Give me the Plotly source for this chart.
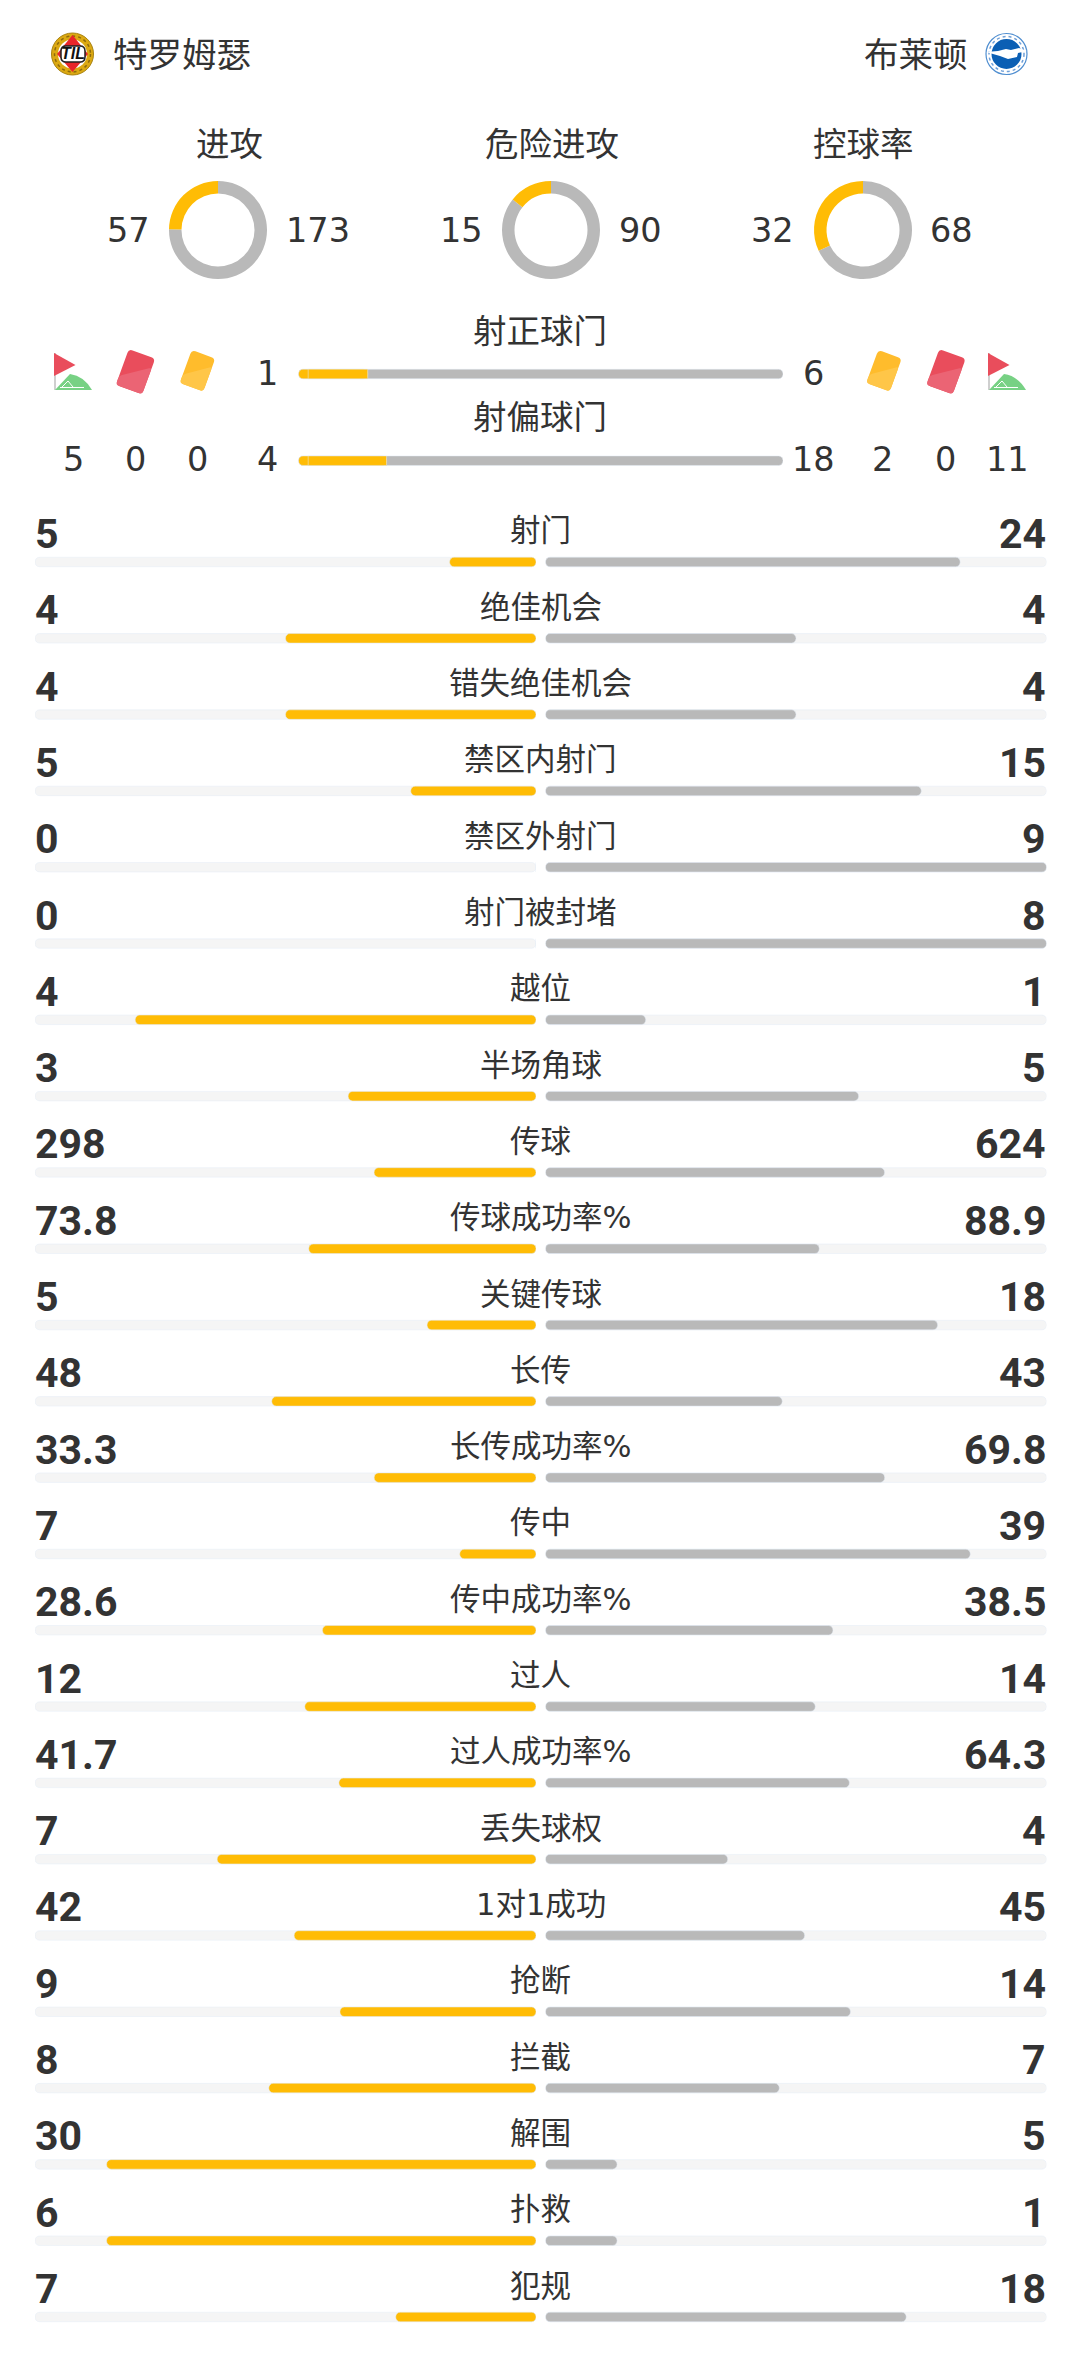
import math
import plotly.graph_objects as go

W = 1080
H = 2379

home_team = "特罗姆瑟"
away_team = "布莱顿"

donut_labels = ["进攻", "危险进攻", "控球率"]
donut_home = [57, 15, 32]
donut_away = [173, 90, 68]

shot_labels = ["射正球门", "射偏球门"]
shot_home = [1, 4]
shot_away = [6, 18]

home_corners = 5
home_reds = 0
home_yellows = 0
away_yellows = 2
away_reds = 0
away_corners = 11

stat_labels = ["射门", "绝佳机会", "错失绝佳机会", "禁区内射门", "禁区外射门", "射门被封堵", "越位", "半场角球",
               "传球", "传球成功率%", "关键传球", "长传", "长传成功率%", "传中", "传中成功率%", "过人",
               "过人成功率%", "丢失球权", "1对1成功", "抢断", "拦截", "解围", "扑救", "犯规"]
stat_home = [5, 4, 4, 5, 0, 0, 4, 3, 298, 73.8, 5, 48, 33.3, 7, 28.6, 12, 41.7, 7, 42, 9, 8, 30, 6, 7]
stat_away = [24, 4, 4, 15, 9, 8, 1, 5, 624, 88.9, 18, 43, 69.8, 39, 38.5, 14, 64.3, 4, 45, 14, 7, 5, 1, 18]

YELLOW = "#ffbc05"
GRAY = "#b9b9b9"
TRACK = "#f5f5f5"
INK = "#333333"
FONT = "DejaVu Sans, Noto Sans CJK SC"
BOLD = "Roboto, Noto Sans CJK SC"


def px(x):
    return x / W


def py(y):
    return 1 - y / H


def note(x, y, text, size, anchor="center", family=FONT):
    return dict(x=px(x), y=py(y), xref="paper", yref="paper", text=text, showarrow=False,
                xanchor=anchor, yanchor="middle", font=dict(family=family, size=size, color=INK))


def path_from(pts, close=True):
    s = " ".join(("M" if i == 0 else "L") + f"{px(x):.5f},{py(y):.5f}" for i, (x, y) in enumerate(pts))
    return s + (" Z" if close else "")


def rounded(pts, r):
    s = ""
    n = len(pts)
    for i in range(n):
        x, y = pts[i]
        x0, y0 = pts[i - 1]
        x1, y1 = pts[(i + 1) % n]
        d0 = math.hypot(x0 - x, y0 - y)
        d1 = math.hypot(x1 - x, y1 - y)
        ax, ay = x + (x0 - x) * r / d0, y + (y0 - y) * r / d0
        bx, by = x + (x1 - x) * r / d1, y + (y1 - y) * r / d1
        s += ("M" if i == 0 else "L") + f"{px(ax):.5f},{py(ay):.5f} "
        s += f"Q{px(x):.5f},{py(y):.5f} {px(bx):.5f},{py(by):.5f} "
    return s + "Z"


def shape_path(path, fill, line=None, width=0):
    return dict(type="path", xref="paper", yref="paper", path=path, fillcolor=fill,
                line=dict(color=line or fill, width=width), layer="above")


def circle(cx, cy, r, fill, line=None, width=0, dash="solid"):
    return dict(type="circle", xref="paper", yref="paper", x0=px(cx - r), x1=px(cx + r),
                y0=py(cy + r), y1=py(cy - r), fillcolor=fill,
                line=dict(color=line or fill, width=width, dash=dash), layer="above")


def card(cx, cy, w, h, base, light):
    a = math.radians(20)

    def rot(u, v):
        return (cx + u * math.cos(a) - v * math.sin(a), cy + u * math.sin(a) + v * math.cos(a))

    tl, tr, br, bl = rot(-w / 2, -h / 2), rot(w / 2, -h / 2), rot(w / 2, h / 2), rot(-w / 2, h / 2)
    m1 = rot(w / 2, -h / 4)
    m2 = rot(-w / 2, h / 4)
    return [shape_path(rounded([tl, tr, br, bl], 4), base),
            shape_path(rounded([m1, br, bl, m2], 3), light)]


def flag(x):
    out = [dict(type="line", xref="paper", yref="paper", x0=px(x + 1), x1=px(x + 1), y0=py(353), y1=py(390),
                line=dict(color="#cfcfcf", width=2), layer="above"),
           shape_path(path_from([(x, 353), (x + 21.5, 365), (x, 376)]), "#e94d5c")]
    g = f"M{px(x + 1):.5f},{py(390):.5f} L{px(x + 16):.5f},{py(374):.5f} " \
        f"Q{px(x + 30):.5f},{py(376):.5f} {px(x + 38):.5f},{py(390):.5f} Z"
    out.append(shape_path(g, "#77d184"))
    out.append(shape_path(path_from([(x + 6, 387.5), (x + 30, 387.5)], close=False), "rgba(0,0,0,0)", "white", 1))
    out.append(shape_path(path_from([(x + 8, 387), (x + 14, 381), (x + 19, 387)], close=False), "rgba(0,0,0,0)", "white", 1))
    return out


fig = go.Figure()

# donuts
donut_cx = [218, 551, 863]
for cx, h, a in zip(donut_cx, donut_home, donut_away):
    fig.add_trace(go.Pie(values=[a, h], hole=0.745, sort=False, direction="clockwise", rotation=0,
                         marker=dict(colors=[GRAY, YELLOW], line=dict(width=0)), textinfo="none",
                         hoverinfo="skip", showlegend=False,
                         domain=dict(x=[px(cx - 49), px(cx + 49)], y=[py(279), py(181)])))


# a bar with an explicit base gets both ends rounded
def add_pill(values, cats, color, xa, ya, width):
    fig.add_trace(go.Bar(x=values, base=[0] * len(values), y=cats, orientation="h", width=width,
                         marker=dict(color=color, cornerradius=4.5), xaxis=xa, yaxis=ya, hoverinfo="skip"))


# stat rows, shares of the two sides
home_share = [h / (h + a) for h, a in zip(stat_home, stat_away)]
away_share = [a / (h + a) for h, a in zip(stat_home, stat_away)]
one = [1] * len(stat_labels)
bw = 9.5 / 76.3

add_pill(one, stat_labels, TRACK, "x", "y", bw)
add_pill(home_share, stat_labels, YELLOW, "x", "y", bw)
add_pill(one, stat_labels, TRACK, "x2", "y2", bw)
add_pill(away_share, stat_labels, GRAY, "x2", "y2", bw)

# shots bars, yellow part has a square right end
shot_share = [h / (h + a) for h, a in zip(shot_home, shot_away)]
bw2 = 9.5 / 86.7
add_pill([1, 1], shot_labels, GRAY, "x3", "y3", bw2)
add_pill(shot_share, shot_labels, YELLOW, "x3", "y3", bw2)
fig.add_trace(go.Bar(x=[s - 0.02 for s in shot_share], base=[0.02, 0.02], y=shot_labels, orientation="h", width=bw2,
                     marker=dict(color=YELLOW), xaxis="x3", yaxis="y3", hoverinfo="skip"))

hidden = dict(visible=False, fixedrange=True)
row0 = 562
row_step = (2317 - 562) / 23
n = len(stat_labels)

anns = [note(110.5, 54.5, home_team, 34.5, "left"), note(969.5, 54.5, away_team, 34.5, "right")]
for x, t in zip([229, 551.5, 863], donut_labels):
    anns.append(note(x, 144, t, 33.5))
for rx, lx, h, a in zip([152, 485, 796], [284, 617, 928], donut_home, donut_away):
    anns.append(note(rx, 231, str(h), 33.5, "right"))
    anns.append(note(lx, 231, str(a), 33.5, "left"))

anns += [note(540, 331, shot_labels[0], 33.5), note(540, 417.5, shot_labels[1], 33.5)]
anns += [note(267, 373, str(shot_home[0]), 33.5), note(813, 373, str(shot_away[0]), 33.5)]
for x, v in zip([73, 135.5, 197.5, 267, 813.5, 883, 945.5, 1007.5],
                [home_corners, home_reds, home_yellows, shot_home[1], shot_away[1], away_yellows, away_reds, away_corners]):
    anns.append(note(x, 460, str(v), 33.5))

for i in range(n):
    y = row0 + i * row_step
    anns.append(note(540.5, y - 31, stat_labels[i], 30.5))
    anns.append(note(33, y - 28, f"<b>{stat_home[i]}</b>", 41, "left", BOLD))
    anns.append(note(1048, y - 28, f"<b>{stat_away[i]}</b>", 41, "right", BOLD))

# crests and icons
shapes = []
shapes.append(circle(72.5, 54, 21, "#dca912", "#a8820f", 1))
shapes.append(circle(72.5, 54, 18, "rgba(0,0,0,0)", "#8d6a0c", 1.5, "dot"))
shapes.append(circle(72.5, 54, 14.5, "white"))
shapes.append(shape_path(path_from([(72.5, 35), (88, 54), (72.5, 72), (57, 54)]), "#e8262a"))
shapes.append(shape_path(rounded([(61, 46), (85, 46), (85, 62), (61, 62)], 5), "white", "#222222", 1.5))
shapes.append(circle(1006.5, 54, 20.5, "white", "#4f8ed0", 1.2))
shapes.append(circle(1006.5, 54, 17.5, "rgba(0,0,0,0)", "#6e9fd8", 1.5, "dot"))
shapes.append(circle(1006.5, 54, 15, "#0b5fb4"))
shapes.append(shape_path(path_from([(986, 52), (998, 51), (1006, 49), (1011, 50), (1019, 48), (1027, 51), (1018, 53),
                                    (1017, 57), (1008, 59), (1000, 56)]), "white"))

shapes += flag(54)
shapes += flag(988)
for cx in [135.5, 946]:
    shapes += card(cx, 371.7, 28, 38, "#e94d5c", "#eb6474")
for cx in [197.5, 884]:
    shapes += card(cx, 370.7, 25, 35, "#ffbc2c", "#ffc648")

anns.append(dict(x=px(73), y=py(54), xref="paper", yref="paper", text="<b><i>TIL</i></b>", showarrow=False,
                 xanchor="center", yanchor="middle", font=dict(family="Liberation Sans", size=16, color="#111111")))

fig.update_layout(
    width=W, height=H, margin=dict(l=0, r=0, t=0, b=0, autoexpand=False),
    paper_bgcolor="white", plot_bgcolor="white",
    barmode="overlay", showlegend=False, hovermode=False,
    xaxis=dict(domain=[px(35), px(536)], range=[1, 0], anchor="y", **hidden),
    yaxis=dict(domain=[py(2317 + row_step / 2), py(562 - row_step / 2)], range=[n - 0.5, -0.5], type="category",
               categoryorder="array", categoryarray=stat_labels, anchor="x", **hidden),
    xaxis2=dict(domain=[px(545.5), px(1046.5)], range=[0, 1], anchor="y2", **hidden),
    yaxis2=dict(domain=[py(2317 + row_step / 2), py(562 - row_step / 2)], range=[n - 0.5, -0.5], type="category",
                categoryorder="array", categoryarray=stat_labels, anchor="x2", **hidden),
    xaxis3=dict(domain=[px(298.5), px(783)], range=[0, 1], anchor="y3", **hidden),
    yaxis3=dict(domain=[py(460.7 + 43.35), py(374 - 43.35)], range=[1.5, -0.5], type="category",
                categoryorder="array", categoryarray=shot_labels, anchor="x3", **hidden),
    annotations=anns, shapes=shapes,
)

fig.write_html("out.html", config=dict(displayModeBar=False, responsive=False),
               post_script="document.body.style.margin='0';")
